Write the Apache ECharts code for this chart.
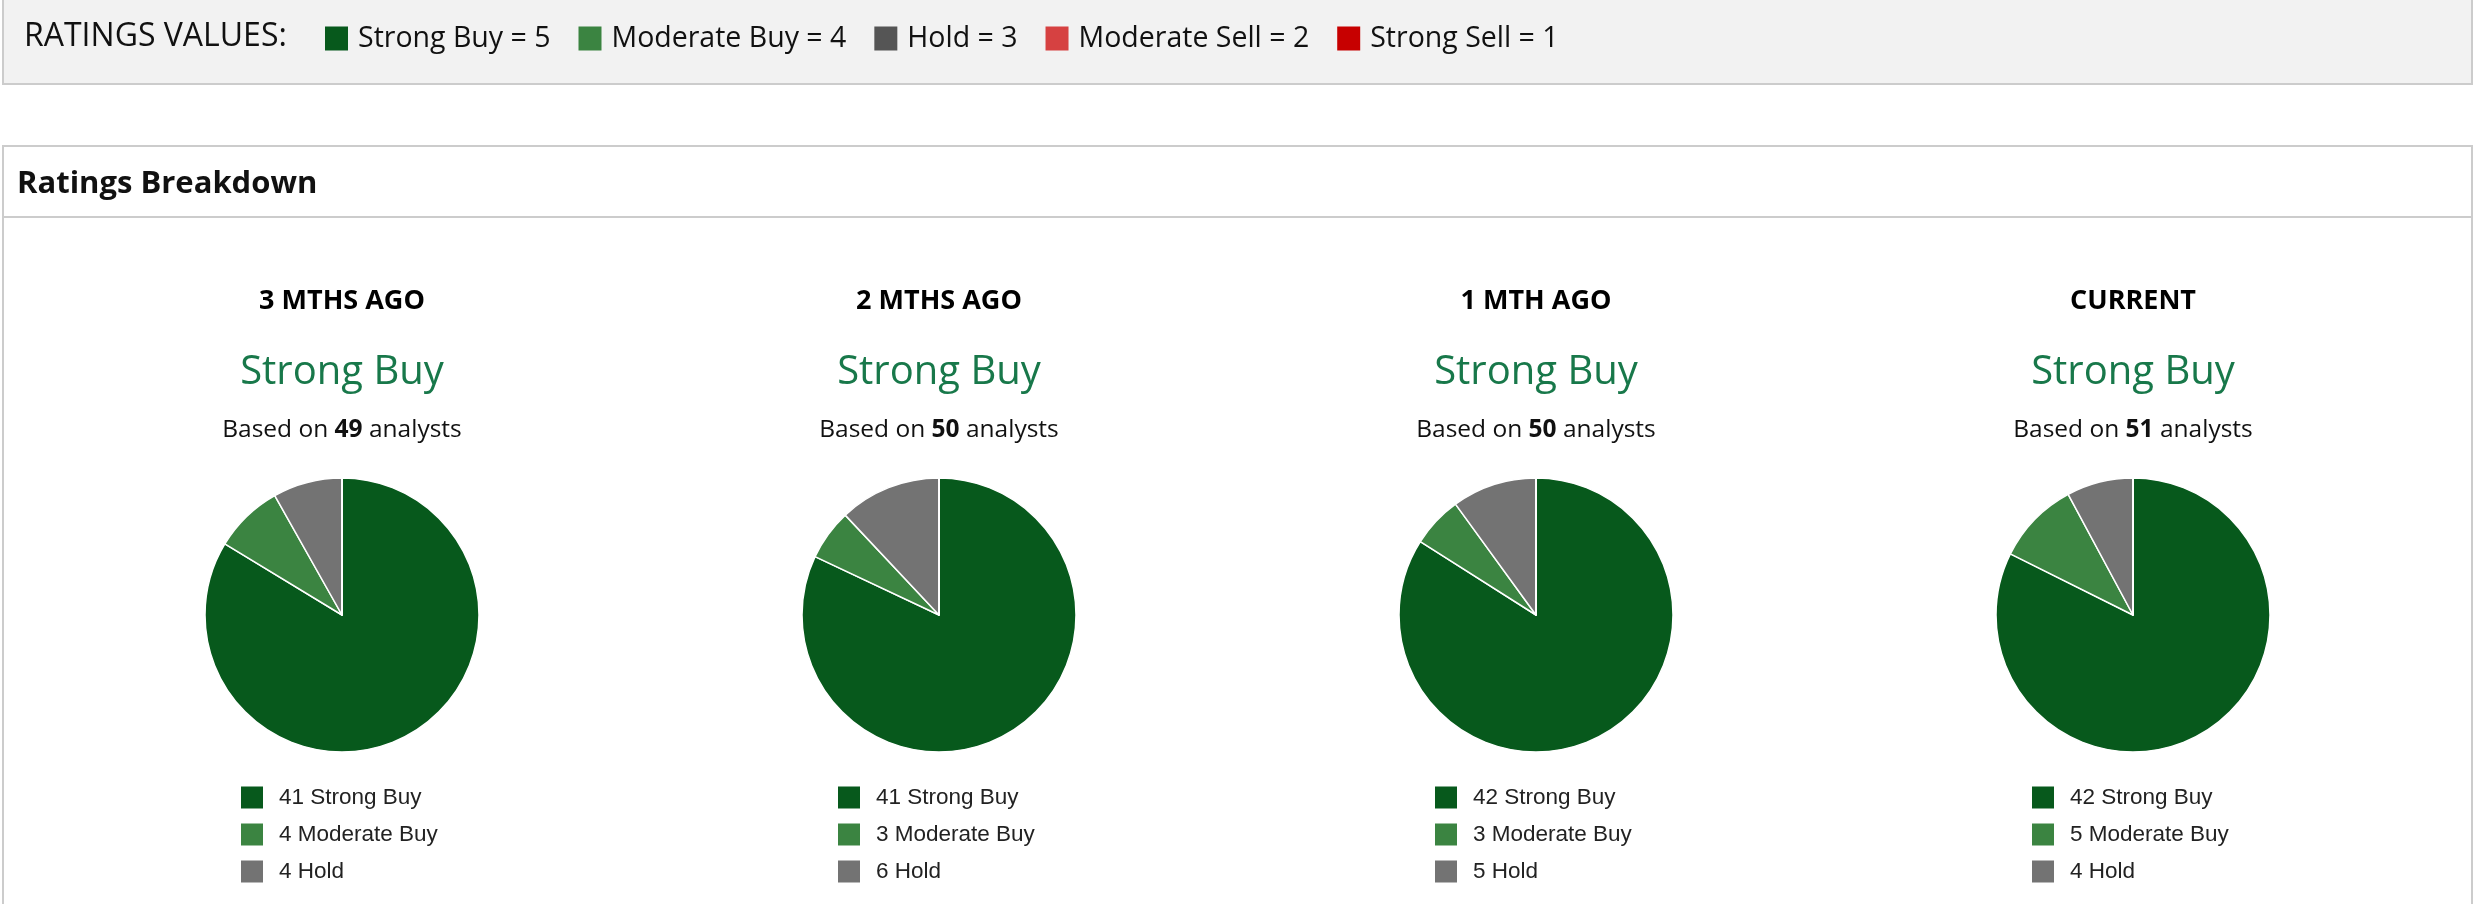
<!DOCTYPE html>
<html>
<head>
<meta charset="utf-8">
<title>Ratings Breakdown</title>
<script src="https://cdn.jsdelivr.net/npm/echarts@6/dist/echarts.min.js"></script>
<style>
  html, body { margin: 0; padding: 0; background: #fff; }
  #chart { width: 2486px; height: 904px; }
</style>
</head>
<body>
<div id="chart"></div>
<script>
// data
var periods = ["3 MTHS AGO", "2 MTHS AGO", "1 MTH AGO", "CURRENT"];
var consensus = ["Strong Buy", "Strong Buy", "Strong Buy", "Strong Buy"];
var ratingNames = ["Strong Buy", "Moderate Buy", "Hold", "Moderate Sell", "Strong Sell"];
var ratingValues = [5, 4, 3, 2, 1];
var strongBuy = [41, 41, 42, 42];
var moderateBuy = [4, 3, 3, 5];
var hold = [4, 6, 5, 4];
var moderateSell = [0, 0, 0, 0];
var strongSell = [0, 0, 0, 0];
var counts = [strongBuy, moderateBuy, hold, moderateSell, strongSell];

// colours
var pieColors = ["#07591c", "#3b8441", "#737373", "#d64141", "#c70000"];
var keyColors = ["#07591c", "#3b8441", "#555555", "#d64141", "#c70000"];

// layout
var colX = [342, 939, 1536, 2133];
var pieY = 615;
var pieR = 137;
var HEAD_FONT = "'Open Sans', 'Noto Sans', sans-serif";
var LEG_FONT = "'Liberation Sans', Arial, sans-serif";

var chart = echarts.init(document.getElementById("chart"));

function total(i) {
  var s = 0;
  counts.forEach(function (c) { s += c[i]; });
  return s;
}

var graphics = [
  { type: "rect", shape: { x: 3, y: -4, width: 2469, height: 88 },
    style: { fill: "#f2f2f2", stroke: "#cccccc", lineWidth: 2 }, z: 0 },
  { type: "text", x: 24, y: 37,
    style: { text: "RATINGS VALUES:", font: "32px " + HEAD_FONT, fill: "#111", verticalAlign: "middle" } },
  { type: "rect", shape: { x: 3, y: 146, width: 2469, height: 800 },
    style: { fill: "#fff", stroke: "#cccccc", lineWidth: 2 }, z: 0 },
  { type: "line", shape: { x1: 3, y1: 217, x2: 2472, y2: 217 },
    style: { stroke: "#cccccc", lineWidth: 2 } },
  { type: "text", x: 17, y: 184,
    style: { text: "Ratings Breakdown", font: "bold 31px " + HEAD_FONT, fill: "#111", verticalAlign: "middle" } }
];

periods.forEach(function (p, i) {
  graphics.push({ type: "text", x: colX[i], y: 301,
    style: { text: p, font: "bold 27px " + HEAD_FONT, fill: "#000", align: "center", verticalAlign: "middle" } });
  graphics.push({ type: "text", x: colX[i], y: 373,
    style: { text: consensus[i], font: "40px " + HEAD_FONT, fill: "#18784a", align: "center", verticalAlign: "middle" } });
  graphics.push({ type: "text", x: colX[i], y: 430,
    style: {
      text: "Based on {b|" + total(i) + "} analysts",
      font: "24.5px " + HEAD_FONT, fill: "#111", align: "center", verticalAlign: "middle",
      rich: { b: { font: "bold 24.5px " + HEAD_FONT, fill: "#111" } }
    } });
});

// legend icons must not pick up the white slice border of the pies
var legends = [{
  left: 325, top: 24, padding: 0,
  itemWidth: 23, itemHeight: 24, itemGap: 28,
  icon: "rect",
  selectedMode: false,
  itemStyle: { borderWidth: 0 },
  data: ratingNames.map(function (n, k) {
    return { name: n, itemStyle: { color: keyColors[k], borderWidth: 0 } };
  }),
  formatter: function (name) {
    return name + " = " + ratingValues[ratingNames.indexOf(name)];
  },
  textStyle: { fontSize: 28.5, lineHeight: 24, fontFamily: HEAD_FONT, color: "#111", padding: [0, 0, 0, 5] }
}];

periods.forEach(function (p, i) {
  legends.push({
    orient: "vertical",
    left: colX[i] - 101, top: 786, padding: 0,
    itemWidth: 22, itemHeight: 22, itemGap: 14,
    icon: "rect",
    selectedMode: false,
    itemStyle: { borderWidth: 0 },
    data: ratingNames.slice(0, 3),
    formatter: function (name) {
      return counts[ratingNames.indexOf(name)][i] + " " + name;
    },
    textStyle: { fontSize: 22.5, lineHeight: 22, fontFamily: LEG_FONT, color: "#222", padding: [0, 0, 0, 11] }
  });
});

var series = periods.map(function (p, i) {
  return {
    type: "pie",
    name: p,
    center: [colX[i], pieY],
    radius: pieR,
    startAngle: 90,
    clockwise: true,
    silent: true,
    label: { show: false },
    labelLine: { show: false },
    emphasis: { disabled: true },
    itemStyle: { borderColor: "#ffffff", borderWidth: 1.5 },
    data: ratingNames.map(function (n, k) {
      return { name: n, value: counts[k][i], itemStyle: { color: pieColors[k] } };
    })
  };
});

chart.setOption({
  backgroundColor: "#ffffff",
  animation: false,
  graphic: graphics,
  legend: legends,
  series: series
});
</script>
</body>
</html>
